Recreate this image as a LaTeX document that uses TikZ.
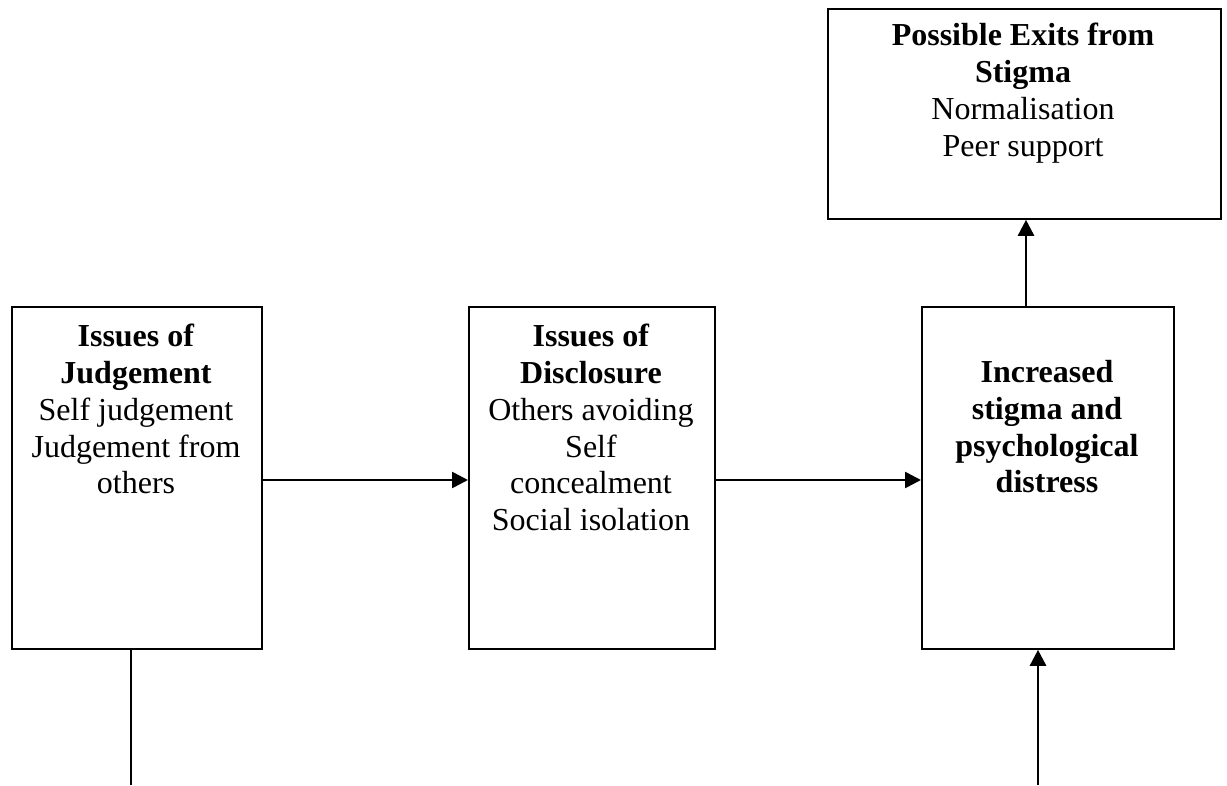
\documentclass[tikz,border=0pt]{standalone}
\usepackage{fontspec}
\setmainfont{Liberation Serif}
\usetikzlibrary{arrows.meta}
\begin{document}
\begin{tikzpicture}[x=1pt,y=-1pt,
  box/.style={draw=black,line width=1.8pt,inner sep=0pt,anchor=north west},
  txt/.style={align=center,anchor=north,inner sep=0pt,font=\fontsize{32}{36.8}\selectfont},
  conn/.style={line width=2.6pt},
  arr/.style={conn,-{Triangle[length=16pt,width=16pt]}}]
\useasboundingbox (0,0) rectangle (1227,785);
\node[box,minimum width=250pt,minimum height=342pt] (b1) at (11,306) {};
\node[box,minimum width=246pt,minimum height=342pt] (b2) at (468,306) {};
\node[box,minimum width=252pt,minimum height=342pt] (b3) at (921,306) {};
\node[box,minimum width=393pt,minimum height=210pt] (b4) at (827,8) {};
\node[txt] (t1) at (136,324) {\textbf{Issues of}\\\textbf{Judgement}\\Self judgement\\Judgement from\\others};
\node[txt] (t2) at (591,324) {\textbf{Issues of}\\\textbf{Disclosure}\\Others avoiding\\Self\\concealment\\Social isolation};
\node[txt] (t3) at (1047,360) {\textbf{Increased}\\\textbf{stigma and}\\\textbf{psychological}\\\textbf{distress}};
\node[txt] (t4) at (1023,23) {\textbf{Possible Exits from}\\\textbf{Stigma}\\Normalisation\\Peer support};
\coordinate (e1) at (131,785);
\coordinate (e2) at (1038,785);
\draw[arr] (b1.east |- 0,480) -- (b2.west |- 0,480);
\draw[arr] (b2.east |- 0,480) -- (b3.west |- 0,480);
\draw[arr] (b3.north -| 1026,0) -- (b4.south -| 1026,0);
\draw[conn] (b1.south -| e1) -- (e1);
\draw[arr] (e2) -- (b3.south -| e2);
\end{tikzpicture}
\end{document}
